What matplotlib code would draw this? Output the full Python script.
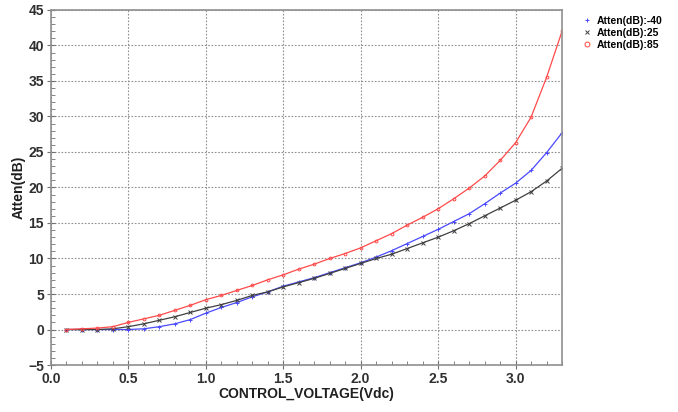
import matplotlib.pyplot as plt
from matplotlib.ticker import MultipleLocator

# Control voltage sweep (V)
voltage = [0.1, 0.2, 0.3, 0.4, 0.5, 0.6, 0.7, 0.8, 0.9, 1.0, 1.1,
           1.2, 1.3, 1.4, 1.5, 1.6, 1.7, 1.8, 1.9, 2.0, 2.1, 2.2,
           2.3, 2.4, 2.5, 2.6, 2.7, 2.8, 2.9, 3.0, 3.1, 3.2, 3.3]

# Attenuation (dB) at -40, 25 and 85 degC
atten_m40 = [0.0, 0.0, 0.0, 0.0, 0.0, 0.1, 0.4, 0.8, 1.4, 2.3, 3.1,
             3.8, 4.6, 5.3, 6.1, 6.7, 7.3, 8.0, 8.7, 9.4, 10.2, 11.1,
             12.1, 13.1, 14.1, 15.2, 16.3, 17.7, 19.2, 20.6, 22.4, 24.9, 27.7]
atten_25 = [0.0, 0.0, 0.0, 0.1, 0.4, 0.8, 1.3, 1.8, 2.4, 3.0, 3.5,
            4.1, 4.8, 5.3, 6.0, 6.6, 7.2, 7.9, 8.6, 9.3, 10.0, 10.6,
            11.4, 12.2, 13.0, 13.9, 14.9, 16.0, 17.1, 18.2, 19.4, 20.9, 22.7]
atten_85 = [0.0, 0.1, 0.2, 0.4, 1.0, 1.5, 2.0, 2.7, 3.4, 4.2, 4.8,
            5.5, 6.2, 7.0, 7.7, 8.5, 9.2, 10.0, 10.7, 11.5, 12.5, 13.5,
            14.7, 15.8, 17.0, 18.4, 19.9, 21.6, 23.8, 26.3, 29.9, 35.5, 42.0]

plt.rcParams['font.family'] = ['Liberation Sans', 'DejaVu Sans']

fig = plt.figure(figsize=(6.78, 4.12), dpi=100)
ax = fig.add_axes([0.075, 0.114, 0.754, 0.862])

ax.plot(voltage, atten_m40, color='#4a4aff', lw=0.9, marker='+', ms=3,
        mew=0.7, label='Atten(dB):-40')
ax.plot(voltage, atten_25, color='#404040', lw=0.9, marker='x', ms=2.5,
        mew=0.7, label='Atten(dB):25')
ax.plot(voltage, atten_85, color='#ff4a4a', lw=0.9, marker='o', ms=2,
        mfc='none', mew=0.7, label='Atten(dB):85')

ax.set_xlim(0, 3.3)
ax.set_ylim(-5, 45)
ax.xaxis.set_major_locator(MultipleLocator(0.5))
ax.xaxis.set_minor_locator(MultipleLocator(0.1))
ax.yaxis.set_major_locator(MultipleLocator(5))
ax.yaxis.set_minor_locator(MultipleLocator(1))
ax.xaxis.set_major_formatter(plt.FormatStrFormatter('%.1f'))

ax.grid(True, which='major', color='#909090', linestyle=(0, (1.5, 1.5)), lw=0.8)
for s in ax.spines.values():
    s.set_color('#909090')
    s.set_linewidth(1.2)
ax.tick_params(which='major', direction='inout', length=6, color='#707070',
               labelsize=10, pad=2)
ax.tick_params(which='minor', direction='in', length=3, color='#707070')
for lab in ax.get_xticklabels() + ax.get_yticklabels():
    lab.set_fontweight('bold')
    lab.set_color('#303030')

ax.set_xlabel('CONTROL_VOLTAGE(Vdc)', fontsize=10, fontweight='bold',
              color='#202020', labelpad=1)
ax.set_ylabel('Atten(dB)', fontsize=10, fontweight='bold',
              color='#202020', labelpad=2)

# legend shows only the marker symbols, like the reference
leg = fig.legend(loc='upper left', bbox_to_anchor=(0.845, 0.985), frameon=False,
                 handlelength=1.0, handletextpad=0.4, labelspacing=0.2,
                 prop={'weight': 'bold', 'size': 7.5})
for h in leg.get_lines():
    h.set_linestyle('None')
    h.set_markersize(3.5)

fig.savefig('out.png', dpi=100)
